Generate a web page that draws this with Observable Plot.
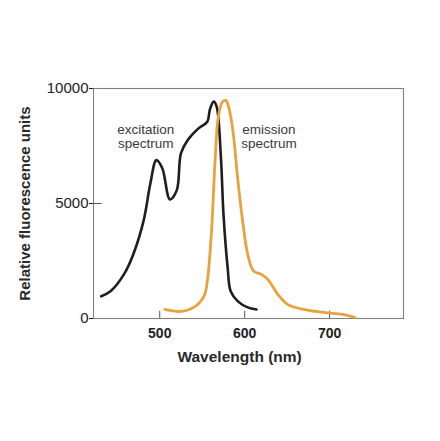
<!DOCTYPE html>
<html>
<head>
<meta charset="utf-8">
<script src="https://cdn.jsdelivr.net/npm/d3@7"></script>
<script src="https://cdn.jsdelivr.net/npm/@observablehq/plot@0.6"></script>
<style>
  html, body { margin: 0; padding: 0; background: #fff; }
  #chart svg { display: block; }
</style>
</head>
<body>
<div id="chart"></div>
<script>
// Excitation spectrum (black)
const excitationWavelength = [431, 442, 458, 469, 481, 489, 496, 503, 512, 520, 525, 533, 545, 556, 559, 563.5, 567, 572, 575, 580, 583.5, 592, 603.5, 614];
const excitationValue      = [965, 1184, 1930, 2807, 4254, 5877, 6886, 6535, 5175, 5570, 7193, 7763, 8245, 8553, 9079, 9430, 9210, 7017, 4561, 2193, 1184, 746, 482, 395];

// Emission spectrum (orange)
const emissionWavelength = [506, 525, 540, 552, 556, 561, 565, 569, 574, 578, 581, 586, 592, 598, 603.5, 610.5, 619, 627, 639, 650.5, 669, 693, 716, 730];
const emissionValue      = [395, 307, 482, 965, 1623, 3816, 6754, 8772, 9430, 9474, 9210, 8200, 6009, 4123, 2807, 2061, 1930, 1710, 1053, 614, 395, 263, 175, 44];

const xTicks = [500, 600, 700];
const yTicks = [0, 5000, 10000];

const annotations = [
  {x: 483.5, y: 7900, text: "excitation\nspectrum"},
  {x: 628.6, y: 7900, text: "emission\nspectrum"}
];

const excitation = excitationWavelength.map((w, i) => ({w, v: excitationValue[i]}));
const emission = emissionWavelength.map((w, i) => ({w, v: emissionValue[i]}));

const chart = Plot.plot({
  width: 440,
  height: 441,
  marginLeft: 93,
  marginRight: 37,
  marginTop: 88,
  marginBottom: 123,
  style: {fontFamily: "'Liberation Sans', Arial, sans-serif", color: "#222", background: "#fff"},
  x: {domain: [422, 787]},
  y: {domain: [0, 10000]},
  marks: [
    Plot.frame({stroke: "#808080", strokeWidth: 1.1}),
    Plot.ruleX(xTicks, {x: d => d, y1: 0, y2: 320, stroke: "#555", strokeWidth: 1}),
    Plot.ruleY([5000], {y: d => d, x1: 422, x2: 432, stroke: "#555", strokeWidth: 1}),
    Plot.axisX({ticks: xTicks, tickSize: 0, tickPadding: 10, label: null, fontSize: 14, fontWeight: "bold", tickFormat: d => String(d)}),
    Plot.axisY({ticks: yTicks, tickSize: 4, tickPadding: 1, label: null, fontSize: 15, tickFormat: d => String(d)}),
    Plot.line(excitation, {x: "w", y: "v", stroke: "#1e1e1e", strokeWidth: 2.6, curve: "catmull-rom"}),
    Plot.line(emission, {x: "w", y: "v", stroke: "#E8A23F", strokeWidth: 2.8, curve: "catmull-rom"}),
    Plot.text(annotations, {x: "x", y: "y", text: "text", fontSize: 13.5, lineHeight: 1.0, fill: "#3a3a3a", textAnchor: "middle", lineAnchor: "middle"}),
    Plot.text(["Wavelength (nm)"], {x: [594], frameAnchor: "bottom", dy: 39, textAnchor: "middle", lineAnchor: "middle", fontSize: 15.5, fontWeight: "bold", fill: "#2a2a2a"}),
    Plot.text(["Relative fluorescence units"], {frameAnchor: "left", dx: -68, rotate: -90, textAnchor: "middle", lineAnchor: "middle", fontSize: 15, fontWeight: "bold", fill: "#2a2a2a"})
  ]
});
document.getElementById("chart").appendChild(chart);
</script>
</body>
</html>
